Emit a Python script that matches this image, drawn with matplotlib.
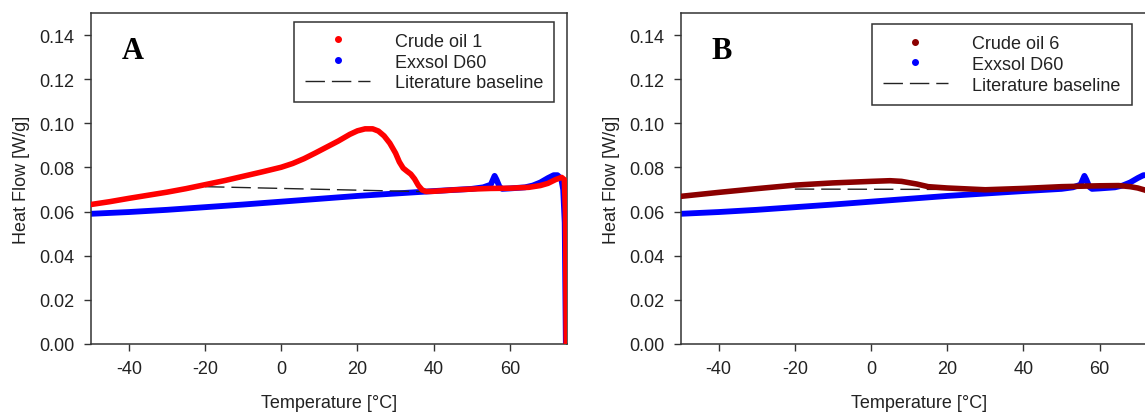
import matplotlib
matplotlib.use("Agg")
import matplotlib.pyplot as plt
from matplotlib.lines import Line2D

plt.rcParams['font.family'] = ['Liberation Sans', 'DejaVu Sans']
plt.rcParams['axes.unicode_minus'] = False

# Crude oil 1 (panel A)
t_oil1 = [-50, -45, -40, -35, -30, -25, -20, -15, -10, -5, 0, 3, 6, 9, 12, 15, 18, 20,
          22, 24, 25.5, 27, 28.5, 30, 31, 32, 33, 34, 35, 36, 37, 38, 40, 45, 50, 55, 60,
          65, 68, 70, 72, 73.6, 74.3, 74.6, 74.8]
hf_oil1 = [0.0632, 0.0645, 0.0660, 0.0674, 0.0688, 0.0704, 0.0722, 0.0740, 0.0760, 0.0780,
           0.0801, 0.0818, 0.0840, 0.0866, 0.0893, 0.0920, 0.0950, 0.0966, 0.0975, 0.0975,
           0.0965, 0.0943, 0.0910, 0.0865, 0.0825, 0.0797, 0.0783, 0.0770, 0.0748, 0.0718,
           0.0698, 0.0691, 0.0692, 0.0698, 0.0702, 0.0705, 0.0706, 0.0710, 0.0718, 0.0728,
           0.0745, 0.0755, 0.0745, 0.0600, 0.0]

# Crude oil 6 (panel B)
t_oil6 = [-50, -40, -30, -20, -10, 0, 5, 8, 12, 15, 20, 30, 40, 50, 60, 65, 68, 70, 72,
          73.5, 74.3, 74.6, 74.8]
hf_oil6 = [0.0669, 0.0687, 0.0704, 0.0720, 0.0730, 0.0737, 0.0740, 0.0737, 0.0725, 0.0713,
           0.0707, 0.0699, 0.0705, 0.0713, 0.0717, 0.0718, 0.0713, 0.0707, 0.0697,
           0.0685, 0.0660, 0.0500, 0.0]

# Exxsol D60 reference (both panels)
t_exx = [-50, -40, -30, -20, -10, 0, 10, 20, 30, 40, 50, 53, 55, 56, 56.5, 57.3, 58, 60,
         64, 66, 68, 70, 71.5, 72.5, 73.5, 74, 74.4, 74.7]
hf_exx = [0.0590, 0.0598, 0.0608, 0.0620, 0.0632, 0.0645, 0.0658, 0.0671, 0.0682, 0.0693,
          0.0703, 0.0710, 0.0722, 0.0762, 0.0745, 0.0712, 0.0703, 0.0705, 0.0710, 0.0718,
          0.0732, 0.0752, 0.0765, 0.0765, 0.0748, 0.0700, 0.0550, 0.0]

# literature baselines
t_base1 = [-20, 38]
hf_base1 = [0.0713, 0.0690]
t_base6 = [-20, 32]
hf_base6 = [0.0702, 0.0700]

xticks = [-40, -20, 0, 20, 40, 60]
yticks = [0.00, 0.02, 0.04, 0.06, 0.08, 0.10, 0.12, 0.14]

W, H = 1145, 414
fig = plt.figure(figsize=(W / 100, H / 100), dpi=100)
ax1 = fig.add_axes([90.7 / W, 69 / H, 476.3 / W, 331 / H])
ax2 = fig.add_axes([680.5 / W, 69 / H, 476.3 / W, 331 / H])

panels = [
    (ax1, 'A', t_oil1, hf_oil1, '#ff0000', 'Crude oil 1', t_base1, hf_base1, (0.4277, 0.9737)),
    (ax2, 'B', t_oil6, hf_oil6, '#8b0000', 'Crude oil 6', t_base6, hf_base6, (0.4023, 0.9668)),
]

for ax, letter, t, hf, col, name, tb, hb, anchor in panels:
    ax.plot(t_exx, hf_exx, color='#0000ff', lw=4.2, solid_capstyle='round',
            solid_joinstyle='round', zorder=2)
    ax.plot(tb, hb, color='#222222', lw=1.0, dashes=(14, 5), zorder=3)
    ax.plot(t, hf, color=col, lw=4.0, solid_capstyle='round', solid_joinstyle='round', zorder=4)

    ax.set_xlim(-50, 75)
    ax.set_ylim(0, 0.15)
    ax.set_xticks(xticks)
    ax.set_yticks(yticks)
    ax.set_yticklabels(['%.2f' % v for v in yticks])
    ax.tick_params(direction='out', length=5, width=1, color='#333333', labelsize=13,
                   labelcolor='#222222', pad=6.5)
    for s in ax.spines.values():
        s.set_color('#333333')
        s.set_linewidth(1.1)
    ax.set_xlabel('Temperature [°C]', fontsize=13, color='#222222', labelpad=12)
    ax.set_ylabel('Heat Flow [W/g]', fontsize=13, color='#222222', labelpad=7)

    ax.text(0.065, 0.863, letter, transform=ax.transAxes, fontsize=22, fontweight='bold',
            family='Liberation Serif', va='baseline', ha='left')

    handles = [
        Line2D([], [], marker='o', ls='none', color=col, markersize=4),
        Line2D([], [], marker='o', ls='none', color='#0000ff', markersize=4),
        Line2D([], [], color='#222222', lw=1.0, dashes=(14, 5)),
    ]
    leg = ax.legend(handles, [name, 'Exxsol D60', 'Literature baseline'],
                    loc='upper left', bbox_to_anchor=anchor, borderaxespad=0,
                    fontsize=13, handlelength=3.6, handletextpad=1.35, borderpad=0.6,
                    labelspacing=0.22, fancybox=False, framealpha=1)
    leg.get_frame().set_edgecolor('#333333')
    leg.get_frame().set_linewidth(1.1)
    for txt in leg.get_texts():
        txt.set_color('#222222')

fig.savefig('out.png', dpi=100)
